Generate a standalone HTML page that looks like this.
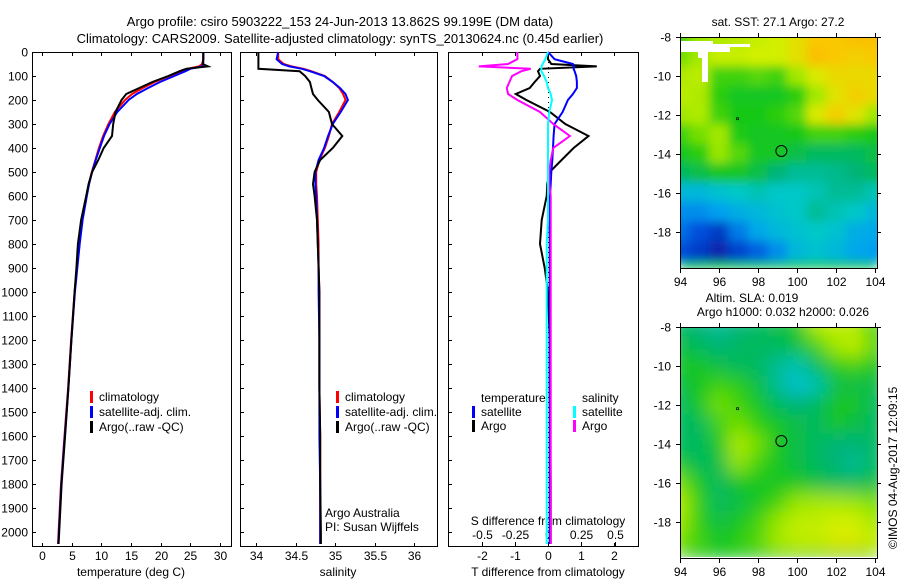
<!DOCTYPE html>
<html><head><meta charset="utf-8"><style>
body{margin:0;background:#fff}
svg{display:block;font-family:"Liberation Sans",sans-serif;font-size:12px}
</style></head><body>
<svg id="c" width="900" height="580">
<defs>
<filter id="bl" x="0" y="0" width="1" height="1"><feGaussianBlur stdDeviation="5" edgeMode="duplicate"/></filter>
<filter id="bl2" x="0" y="0" width="1" height="1"><feGaussianBlur stdDeviation="9" edgeMode="duplicate"/></filter>
<clipPath id="cp1"><rect x="680" y="37" width="197" height="231"/></clipPath>
<clipPath id="cp2"><rect x="680" y="327" width="197" height="230"/></clipPath>
</defs>
<text x="340" y="26" text-anchor="middle" font-size="13">Argo profile: csiro 5903222_153 24-Jun-2013 13.862S 99.199E (DM data)</text>
<text x="340" y="43" text-anchor="middle" font-size="13">Climatology: CARS2009. Satellite-adjusted climatology: synTS_20130624.nc (0.45d earlier)</text>
</svg>
<script>
const depths=[0,30,50,60,70,80,100,125,150,175,200,250,300,350,400,450,500,550,600,700,800,900,1000,1200,1400,1600,1800,2000,2050];
const tempClim=[27.2,27.2,27.0,26.5,24.5,23.5,21.5,19.0,17.0,15.2,14.0,12.3,11.2,10.3,9.6,9.0,8.4,7.9,7.5,6.8,6.3,5.9,5.5,4.9,4.4,3.8,3.2,2.8,2.7];
const tempSat=[27.2,27.2,27.2,27.0,25.0,24.2,22.3,19.9,17.9,16.0,14.6,12.7,11.4,10.45,9.75,9.05,8.45,7.95,7.55,6.85,6.35,5.95,5.55,4.95,4.45,3.85,3.25,2.85,2.75];
const tempArgo=[27.2,27.2,27.1,28.0,24.3,23.2,21.3,18.6,16.4,14.2,13.4,12.4,12.0,11.8,10.4,9.5,8.45,7.85,7.45,6.6,6.05,5.8,5.5,4.95,4.45,3.9,3.3,2.9,2.8];
const salClim=[34.28,34.28,34.35,34.45,34.6,34.7,34.87,34.97,35.05,35.1,35.13,35.05,34.96,34.92,34.87,34.8,34.76,34.76,34.77,34.78,34.79,34.79,34.8,34.8,34.8,34.81,34.81,34.81,34.81];
const salSat=[34.28,34.26,34.33,34.42,34.58,34.68,34.86,34.97,35.06,35.13,35.16,35.07,34.97,34.91,34.86,34.79,34.75,34.75,34.76,34.77,34.78,34.79,34.79,34.8,34.8,34.8,34.81,34.81,34.81];
const salArgo=[34.03,34.03,34.03,34.03,34.03,34.55,34.62,34.68,34.7,34.72,34.78,34.92,34.96,35.09,34.97,34.81,34.74,34.72,34.74,34.77,34.78,34.79,34.8,34.8,34.8,34.81,34.81,34.82,34.82];
const dTsat=[0,0.2,0.75,0.78,0.77,0.8,0.85,0.87,0.87,0.75,0.6,0.44,0.2,0.17,0.15,0.13,0.1,0.08,0.06,0.05,0.05,0.05,0.05,0.05,0.05,0.05,0.05,0.05,0.05];
const dTargo=[0,0,0.1,1.47,-0.24,-0.3,-0.24,-0.4,-0.55,-0.97,-0.65,0.06,0.52,1.22,0.77,0.41,0.05,-0.02,-0.04,-0.19,-0.24,-0.1,0,0.05,0.05,0.07,0.08,0.08,0.08];
const dSargo=[-0.23,-0.23,-0.3,-0.52,-0.13,-0.2,-0.27,-0.29,-0.31,-0.3,-0.23,-0.06,0.04,0.165,0.04,0.02,0.01,0.01,0.02,0.02,0.02,0.02,0.02,0.02,0.02,0.02,0.02,0.02,0.02];
const dSsat=[0,-0.02,-0.04,-0.05,-0.05,-0.05,-0.03,-0.01,0,0.02,0.03,0.01,0,0,0,0,0,0,0,0,-0.01,-0.01,-0.01,-0.01,-0.01,-0.01,-0.01,-0.01,-0.01];
const depthTicks=[0,100,200,300,400,500,600,700,800,900,1000,1100,1200,1300,1400,1500,1600,1700,1800,1900,2000];
const tempTicks=[0,5,10,15,20,25,30];
const salTicks=[34,34.5,35,35.5,36];
const tdTicks=[-2,-1,0,1,2];
const sdTicks=[-0.5,-0.25,0,0.25,0.5];
const sdTickLabels=['-0.5','-0.25','0','0.25','0.5'];
const lonTicks=[94,96,98,100,102,104];
const latTicks=[-8,-10,-12,-14,-16,-18];
const sstField=[
[0.6,0.68,0.72,0.74,0.76,0.78,0.83,0.9,0.9,0.92,0.92],
[0.65,0.7,0.76,0.76,0.78,0.78,0.83,0.92,0.9,0.88,0.9],
[0.72,0.74,0.6,0.6,0.62,0.6,0.7,0.8,0.85,0.85,0.85],
[0.74,0.72,0.58,0.55,0.55,0.55,0.58,0.7,0.82,0.88,0.85],
[0.7,0.72,0.6,0.56,0.56,0.58,0.62,0.8,0.88,0.82,0.7],
[0.6,0.65,0.7,0.57,0.55,0.55,0.56,0.6,0.6,0.58,0.56],
[0.55,0.58,0.68,0.62,0.55,0.55,0.52,0.5,0.5,0.5,0.52],
[0.5,0.52,0.55,0.55,0.52,0.48,0.45,0.45,0.46,0.48,0.5],
[0.35,0.35,0.38,0.4,0.42,0.4,0.4,0.42,0.45,0.45,0.42],
[0.25,0.25,0.28,0.32,0.35,0.38,0.4,0.45,0.42,0.4,0.35],
[0.2,0.15,0.1,0.22,0.3,0.35,0.38,0.4,0.38,0.32,0.3],
[0.15,0.1,0.05,0.12,0.18,0.25,0.35,0.38,0.35,0.3,0.28]];
const slaField=[
[0.5,0.48,0.45,0.48,0.5,0.52,0.55,0.72,0.75,0.72,0.6],
[0.52,0.5,0.48,0.5,0.5,0.5,0.52,0.6,0.7,0.75,0.62],
[0.55,0.55,0.52,0.5,0.5,0.45,0.42,0.5,0.58,0.6,0.55],
[0.52,0.55,0.6,0.58,0.52,0.45,0.38,0.42,0.52,0.52,0.52],
[0.5,0.55,0.65,0.6,0.55,0.5,0.48,0.5,0.55,0.55,0.5],
[0.5,0.5,0.6,0.65,0.58,0.55,0.52,0.5,0.55,0.52,0.5],
[0.5,0.5,0.55,0.72,0.65,0.55,0.52,0.5,0.48,0.48,0.5],
[0.55,0.5,0.52,0.68,0.6,0.55,0.52,0.5,0.48,0.45,0.5],
[0.65,0.55,0.5,0.55,0.55,0.55,0.55,0.52,0.5,0.5,0.52],
[0.72,0.58,0.5,0.52,0.55,0.6,0.68,0.7,0.7,0.68,0.65],
[0.7,0.58,0.52,0.55,0.6,0.68,0.75,0.75,0.78,0.78,0.7],
[0.65,0.6,0.55,0.58,0.62,0.7,0.75,0.75,0.8,0.8,0.75]];
const argoLon=99.199, argoLat=-13.862;

const S=document.getElementById('c'),NS='http://www.w3.org/2000/svg';
function mk(t,a,txt){const e=document.createElementNS(NS,t);for(const k in a)e.setAttribute(k,a[k]);if(txt!==undefined)e.textContent=txt;S.appendChild(e);return e;}
const yD=d=>52+d*0.24;
const xT=v=>42+v*5.93;
const xS=v=>256+(v-34)*79.2;
const xTd=v=>548+v*33.2;
const xSd=v=>548+v*133;

function frame(x,y,w,h,name){const r=mk('rect',{x:x+0.5,y:y+0.5,width:w,height:h,fill:'none',stroke:'#000'});

}
function line(vals,fx,col,name){const p=vals.map((v,i)=>fx(v).toFixed(1)+','+yD(depths[i]).toFixed(1)).join(' ');
const e=mk('polyline',{points:p,fill:'none',stroke:col,'stroke-width':2});

}
function xticks(ticks,fx,labels,y0,y1,ly,name){ticks.forEach((t,i)=>{const x=Math.round(fx(t))+0.5;
mk('line',{x1:x,x2:x,y1:y1,y2:y1-4,stroke:'#000'});mk('line',{x1:x,x2:x,y1:y0,y2:y0+4,stroke:'#000'});
const e=mk('text',{x:x,y:ly,'text-anchor':'middle'},labels?labels[i]:String(t));

});}

frame(32,52,199,494,'temperature-plot-frame');
frame(240,52,197,494,'salinity-plot-frame');
frame(448,52,190,494,'difference-plot-frame');
depthTicks.forEach(d=>{const y=Math.round(yD(d))+0.5;
[[32,231],[240,437],[448,638]].forEach(([a,b])=>{mk('line',{x1:a,x2:a+4,y1:y,y2:y,stroke:'#000'});mk('line',{x1:b,x2:b+1,y1:y,y2:y,stroke:'#000'});});
const e=mk('text',{x:28,y:y+4,'text-anchor':'end'},String(d));

});
xticks(tempTicks,xT,null,52,547,560,'temperature-tick-label');
xticks(salTicks,xS,null,52,547,560,'salinity-tick-label');
xticks(tdTicks,xTd,null,52,547,560,'t-diff-tick-label');
sdTicks.forEach((t,i)=>{const x=Math.round(xSd(t))+0.5;mk('line',{x1:x,x2:x,y1:547,y2:542,stroke:'#000'});
const e=mk('text',{x:x,y:539,'text-anchor':'middle'},sdTickLabels[i]);

});
[['temperature (deg C)',131,'temperature-axis-title'],['salinity',338,'salinity-axis-title'],['T difference from climatology',548,'t-diff-axis-title']].forEach(([t,x,n])=>{const e=mk('text',{x:x,y:576,'text-anchor':'middle'},t);

});
{const e=mk('text',{x:548,y:525,'text-anchor':'middle'},'S difference from climatology');

}

mk('line',{x1:548.5,x2:548.5,y1:52,y2:546,stroke:'#000','stroke-dasharray':'1,4'});
line(tempClim,xT,'#ff0000','temp-climatology-line');
line(tempSat,xT,'#0000ff','temp-satellite-line');
line(tempArgo,xT,'#000000','temp-argo-line');
line(salClim,xS,'#ff0000','sal-climatology-line');
line(salSat,xS,'#0000ff','sal-satellite-line');
line(salArgo,xS,'#000000','sal-argo-line');
line(dTargo,xTd,'#000000','tdiff-argo-line');
line(dTsat,xTd,'#0000ff','tdiff-satellite-line');
line(dSargo,xSd,'#ff00ff','sdiff-argo-line');
line(dSsat,xSd,'#00ffff','sdiff-satellite-line');

function leg(x,y,col,txt,name){mk('rect',{x:x,y:y-10,width:3,height:12,fill:col});
const e=mk('text',{x:x+9,y:y},txt);

}
[[32+58,'temp'],[240+96,'sal']].forEach(([x,p])=>{leg(x,401,'#ff0000','climatology',p+'-legend-climatology');leg(x,416,'#0000ff','satellite-adj. clim.',p+'-legend-satellite');leg(x,431,'#000000','Argo(..raw -QC)',p+'-legend-argo');});
{let e=mk('text',{x:481,y:402},'temperature');
e=mk('text',{x:582,y:402},'salinity');}
leg(472,416,'#0000ff','satellite','legend-t-satellite');leg(472,430,'#000000','Argo','legend-t-argo');
leg(573,416,'#00ffff','satellite','legend-s-satellite');leg(573,430,'#ff00ff','Argo','legend-s-argo');
{let e=mk('text',{x:325,y:517},'Argo Australia');
e=mk('text',{x:325,y:531},'PI: Susan Wijffels');}

function cmap(v){const st=[[0,[10,20,150]],[0.15,[0,80,220]],[0.28,[0,160,240]],[0.4,[0,200,200]],[0.48,[0,180,120]],[0.56,[20,200,20]],[0.68,[150,230,0]],[0.78,[210,240,0]],[0.9,[250,200,0]],[1,[250,160,0]]];
for(let i=1;i<st.length;i++)if(v<=st[i][0]){const a=st[i-1],b=st[i],t=(v-a[0])/(b[0]-a[0]);return 'rgb('+a[1].map((c,k)=>Math.round(c+(b[1][k]-c)*t)).join(',')+')';}return 'rgb(250,160,0)';}
function map(field,y0,cp,fil,name){const g=document.createElementNS(NS,'g');g.setAttribute('clip-path','url(#'+cp+')');S.appendChild(g);
const g2=document.createElementNS(NS,'g');g2.setAttribute('filter','url(#'+fil+')');g.appendChild(g2);
const xL=v=>680+(v-94)*19.5,yL=v=>y0+(-8-v)*19.45;


const bg=document.createElementNS(NS,'rect');bg.setAttribute('x',680);bg.setAttribute('y',y0);bg.setAttribute('width',197);bg.setAttribute('height',232);bg.setAttribute('fill',cmap(field[6][5]));g2.appendChild(bg);
field.forEach((row,r)=>row.forEach((v,c)=>{const e=document.createElementNS(NS,'rect');
e.setAttribute('x',xL(94+c)-10);e.setAttribute('y',yL(-8-r)-10);e.setAttribute('width',21);e.setAttribute('height',21);e.setAttribute('fill',cmap(v));g2.appendChild(e);}));
frame(680,y0,197,231,name+'-frame');
lonTicks.forEach(t=>{const x=Math.round(xL(t))+0.5;mk('line',{x1:x,x2:x,y1:y0,y2:y0-4,stroke:'#000'});mk('line',{x1:x,x2:x,y1:y0+231,y2:y0+236,stroke:'#000'});
const e=mk('text',{x:x,y:y0+249,'text-anchor':'middle'},String(t));

});
latTicks.forEach(t=>{const y=Math.round(yL(t))+0.5;mk('line',{x1:676,x2:680,y1:y,y2:y,stroke:'#000'});mk('line',{x1:877,x2:881,y1:y,y2:y,stroke:'#000'});
const e=mk('text',{x:671,y:y+4,'text-anchor':'end'},String(t));

});
const c=mk('circle',{cx:xL(argoLon),cy:yL(argoLat),r:5.5,fill:'none',stroke:'#000'});


mk('rect',{x:xL(96.9),y:yL(-12.15),width:2,height:2,fill:'none',stroke:'#000','stroke-width':0.7});}
map(sstField,37,'cp1','bl','sst-map');
{const p=mk('path',{d:'M681,41 H713 V44 H750 V47 H730 V52 H708 V82 H702 V58 H698 V52 H681 Z',fill:'#fff'});

}
map(slaField,327,'cp2','bl2','sla-map');
{let e=mk('text',{x:778,y:26,'text-anchor':'middle'},'sat. SST: 27.1 Argo: 27.2');
e=mk('text',{x:752,y:302,'text-anchor':'middle'},'Altim. SLA: 0.019');
e=mk('text',{x:783,y:316,'text-anchor':'middle'},'Argo h1000: 0.032 h2000: 0.026');
e=mk('text',{x:0,y:0,transform:'translate(897,549) rotate(-90)'},'©IMOS 04-Aug-2017 12:09:15');}
</script>
</body></html>
